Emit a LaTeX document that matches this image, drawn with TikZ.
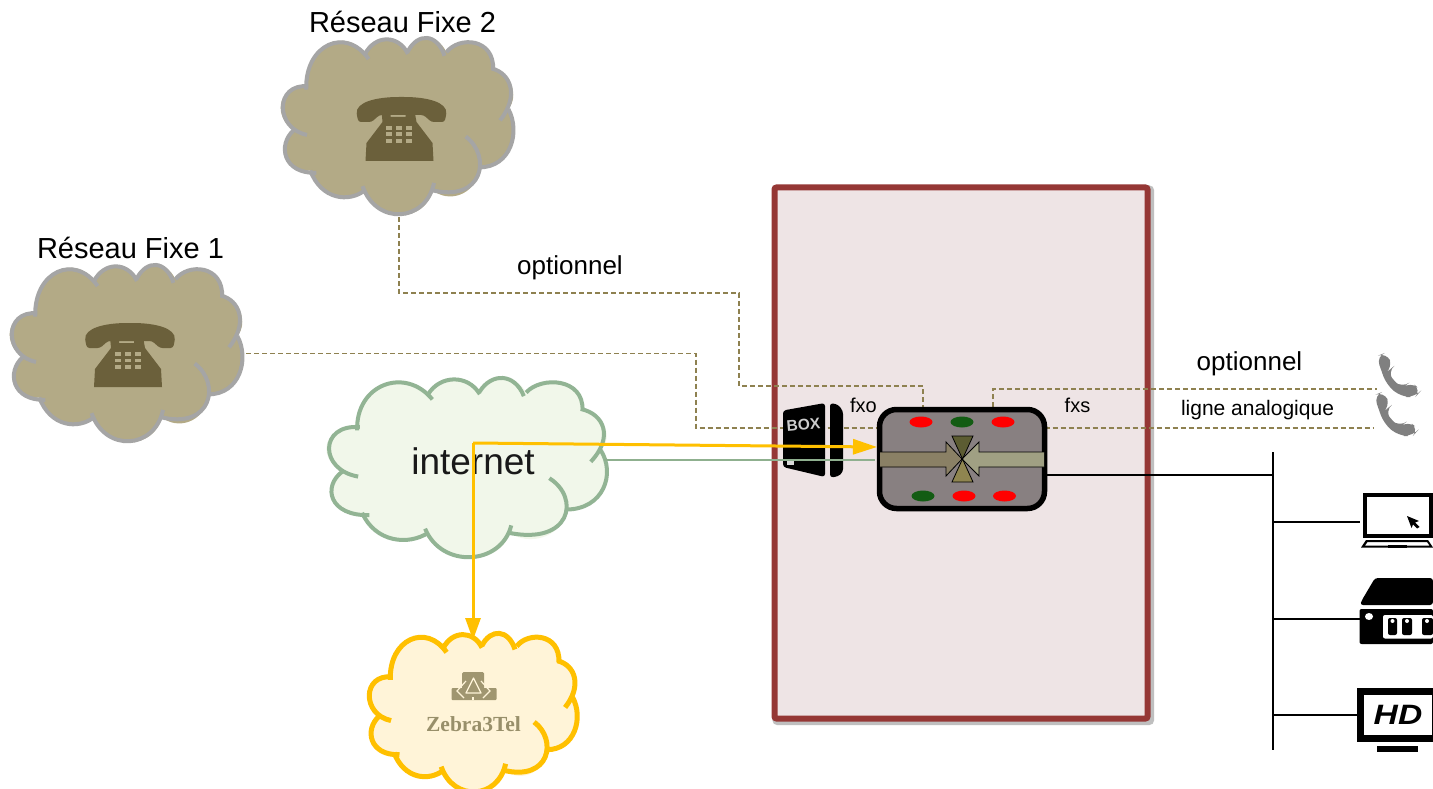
\documentclass[tikz,border=0pt]{standalone}
\usepackage{fontspec}
\setmainfont{Liberation Sans}
\newfontfamily\zebrafont{Liberation Serif}
\usetikzlibrary{arrows.meta,calc}
\definecolor{frameC}{HTML}{953735}
\definecolor{frameF}{HTML}{EEE4E5}
\definecolor{dashC}{HTML}{8E8150}
\definecolor{fixeF}{HTML}{B3AA86}
\definecolor{fixeS}{HTML}{A5A5A5}
\definecolor{netF}{HTML}{F1F7EA}
\definecolor{netS}{HTML}{92B494}
\definecolor{zebF}{HTML}{FFF4D8}
\definecolor{zebS}{HTML}{FFC000}
\definecolor{phoneC}{HTML}{6B603B}
\definecolor{logoC}{HTML}{A09670}
\definecolor{routerF}{HTML}{888081}
\definecolor{ledG}{HTML}{135C13}
\definecolor{arrowL}{HTML}{8A8065}
\definecolor{arrowR}{HTML}{A0A083}
\definecolor{triT}{HTML}{5C5C32}
\definecolor{triB}{HTML}{8F8550}
\definecolor{greenL}{HTML}{8FB08F}
\tikzset{
  lbl/.style={inner sep=0pt,text=black},
  ghost/.style={inner sep=0pt,outer sep=0pt},
  dashline/.style={draw=dashC,line width=1.5pt,dash pattern=on 5pt off 3pt},
  lanline/.style={draw=black,line width=1.7pt},
  orangeline/.style={draw=zebS,line width=3pt},
  led/.style={ellipse,minimum width=23pt,minimum height=11pt,inner sep=0pt},
  tri/.style={draw=black,line width=0.8pt},
}
\usetikzlibrary{shapes.geometric}
% cloud drawn in its own normalised coordinates (851 x 552)
\newcommand{\cloudshape}[7]{%
\begin{scope}[shift={(#1,#2)},xscale=#3/851,yscale=#4/552,shift={(-462.5,-294)}]
\fill[#5] (125,175) .. controls (120,40) and (270,-15) .. (340,70)
  .. controls (375,10) and (460,10) .. (495,62)
  .. controls (530,5) and (600,5) .. (635,65)
  .. controls (680,15) and (810,20) .. (805,115)
  .. controls (870,130) and (900,200) .. (860,240)
  .. controls (905,310) and (870,420) .. (760,420)
  .. controls (740,510) and (640,530) .. (585,490)
  .. controls (560,590) and (380,600) .. (340,490)
  .. controls (280,530) and (180,520) .. (140,430)
  .. controls (40,440) and (20,350) .. (80,305)
  .. controls (10,270) and (10,170) .. (125,175) -- cycle;
\begin{scope}[draw=#6,line width=#7pt,fill=none]
\draw (125,180) .. controls (120,40) and (270,-15) .. (352,86);
\draw (338,72) .. controls (375,10) and (460,10) .. (495,70);
\draw (495,62) .. controls (530,5) and (600,5) .. (628,76);
\draw (635,65) .. controls (680,15) and (810,20) .. (805,120);
\draw (800,115) .. controls (870,130) and (900,200) .. (830,275);
\draw (860,240) .. controls (905,310) and (870,420) .. (755,420);
\draw (705,325) .. controls (800,385) and (770,530) .. (580,490);
\draw (590,468) .. controls (560,590) and (380,600) .. (330,478);
\draw (340,490) .. controls (280,530) and (180,520) .. (140,430);
\draw (162,437) .. controls (40,440) and (20,350) .. (80,305);
\draw (128,320) .. controls (10,300) and (10,160) .. (133,170);
\end{scope}
\end{scope}}
% desk telephone, centred on its own origin
\newcommand{\deskphone}[2]{%
\begin{scope}[shift={(#1,#2)}]
\fill[phoneC,rounded corners=2.5pt] (-44.5,-12) .. controls (-46,-26) and (-25,-31) .. (0,-31)
  .. controls (25,-31) and (46,-26) .. (44.5,-12) -- (43,-6) -- (30,-6) -- (22,-13)
  -- (-22,-13) -- (-30,-6) -- (-43,-6) -- cycle;
\fill[phoneC] (-20,-17) -- (-11,-17) -- (-11,-11) -- (4,-11) -- (4,-17) -- (13,-17)
  -- (15,-6) -- (31,15) -- (32,33) -- (-36,33) -- (-35,15) -- (-19,-6) -- cycle;
\foreach \kx in {-15.5,-5.5,4.5}\foreach \ky in {-2,4.5,11}
  \fill[fixeF] (\kx,\ky) rectangle ++(6,3.6);
\end{scope}}
% tilted handset
\newcommand{\handset}[2]{%
\begin{scope}[shift={(#1,#2)},xscale=1/3,yscale=1/3]
\fill[gray,rounded corners=9pt] (-5,10) -- (25,-2) -- (45,42) -- (28,56) -- (48,85) -- (72,105)
  -- (98,86) -- (130,112) -- (112,132) -- (70,132) -- (25,95) -- cycle;
\end{scope}}
\begin{document}
\begin{tikzpicture}[x=1pt,y=-1pt]
\clip (0,0) rectangle (1433,789);
\fill[white] (0,0) rectangle (1433,789);
% frame
\draw[black!25,line width=6pt,rounded corners=2pt] (775.5,188.5) rectangle (1151,722);
\node[ghost,draw=frameC,fill=frameF,line width=6pt,rounded corners=2pt,minimum width=373pt,minimum height=531pt] (frame) at (961,453) {};
% clouds
\node[ghost,minimum width=236pt,minimum height=181pt] (fixetwo) at (399,126.5) {};
\node[ghost,minimum width=236pt,minimum height=181pt] (fixeone) at (128,353.5) {};
\node[ghost,minimum width=284pt,minimum height=184pt] (inet) at (469,468) {};
\node[ghost,minimum width=214pt,minimum height=164pt] (zebra) at (474,713) {};
\cloudshape{399}{126.5}{234}{179}{fixeF}{fixeS}{4}
\cloudshape{128}{353.5}{234}{179}{fixeF}{fixeS}{4}
\cloudshape{469}{468}{282}{182}{netF}{netS}{4}
\cloudshape{474}{713}{211}{161}{zebF}{zebS}{5}
\deskphone{401.5}{128}
\deskphone{130}{354}
% texts
\node[lbl,font=\fontsize{29}{32}\selectfont] (t2) at (402.5,22) {Réseau Fixe 2};
\node[lbl,font=\fontsize{29}{32}\selectfont] (t1) at (130.5,248) {Réseau Fixe 1};
\node[lbl,font=\fontsize{26}{30}\selectfont] (o1) at (570,268) {optionnel};
\node[lbl,font=\fontsize{26}{30}\selectfont] (o2) at (1249.5,364) {optionnel};
\node[lbl,font=\fontsize{21}{24}\selectfont] (la) at (1257.5,410) {ligne analogique};
\node[lbl,font=\fontsize{20}{24}\selectfont] (fxo) at (863.5,405) {fxo};
\node[lbl,font=\fontsize{20}{24}\selectfont] (fxs) at (1077.5,405) {fxs};
\node[lbl,font=\fontsize{37}{40}\selectfont,text=black!90] (inettext) at (473,461) {internet};
% Zebra logo
\fill[logoC,rounded corners=1.5pt] (462,672) rectangle (484,690);
\fill[logoC,rounded corners=1pt] (451.5,688) rectangle (496.5,700);
\draw[zebF,line width=1.2pt,line join=round] (473.5,678) -- (481,693) -- (466,693) -- cycle;
\draw[zebF,line width=1.2pt] (466,681) -- (457,691) -- (464,698);
\draw[zebF,line width=1.2pt] (481,681) -- (490,691) -- (483,698);
\draw[zebF,line width=1.2pt] (473,700) -- (473,697);
\node[lbl,font=\zebrafont\bfseries\fontsize{21.5}{24}\selectfont,text=logoC!95!black] (zt) at (473.5,724) {Zebra3Tel};
% connector coordinates
\coordinate (jtwoa) at (399,293);
\coordinate (jtwob) at (739,386);
\coordinate (jone) at (696,428);
\coordinate (rtop) at (923,407);
\coordinate (rtopr) at (993,407);
\coordinate (phoneA) at (1377,389);
\coordinate (phoneB) at (1373,428);
\coordinate (bustop) at (1273,452);
\coordinate (busbot) at (1273,750);
\coordinate (laptopP) at (1360,522);
\coordinate (switchP) at (1360,619);
\coordinate (tvP) at (1357,715);
\coordinate (zebraTip) at (473,640);
\coordinate (corner) at (473,443);
\coordinate (rEntry) at (877,447);
\coordinate (greenS) at (604,460);
\coordinate (greenE) at (875,460);
% router node first for anchors
\node[ghost,minimum width=165pt,minimum height=99pt] (router) at (962,459) {};
% dashed lines
\draw[dashline] (fixetwo.south) -- (jtwoa) -| (jtwob) -| (rtop);
\draw[dashline] (fixeone.east) -| (jone) -- (jone -| router.west);
\draw[dashline] (rtopr) |- (phoneA);
\draw[dashline] (phoneB -| router.east) -- (phoneB);
% box
\fill[black,rounded corners=3pt] (783,410.5) -- (825,403) -- (825,477) -- (783,467) -- cycle;
\fill[black,rounded corners=3pt] (830,403) -- (838,404.5) -- (843,411) -- (843,472) -- (838,476.5) -- (830,477.5) -- cycle;
\fill[white!85!black] (787,459) rectangle (793.5,465);
\node[lbl,font=\bfseries\fontsize{15.5}{17}\selectfont,text=white!80!black,rotate=5] (boxt) at (803.5,424.5) {BOX};
% router
\node[ghost,draw=black,fill=routerF,line width=5.5pt,rounded corners=17pt,minimum width=165pt,minimum height=99pt] (routerbody) at (962,459) {};
\foreach \lx/\ly/\lc/\ln in {921/422/red/a,962/422/ledG/b,1003/422/red/c,923/496/ledG/d,964/496/red/e,1004.5/496/red/f}
  \node[led,fill=\lc] (led\ln) at (\lx,\ly) {};
\fill[arrowL] (880,452) -- (946,452) -- (946,442) -- (962,459) -- (946,476) -- (946,467) -- (880,467) -- cycle;
\draw[tri] (880,452) -- (946,452) -- (946,442) -- (962,459) -- (946,476) -- (946,467) -- (880,467);
\fill[arrowR] (1044,452) -- (979,452) -- (979,442) -- (962,459) -- (979,476) -- (979,467) -- (1044,467) -- cycle;
\draw[tri] (1044,452) -- (979,452) -- (979,442) -- (962,459) -- (979,476) -- (979,467) -- (1044,467);
\draw[tri,fill=triT] (952,436) -- (973,436) -- (962.5,459) -- cycle;
\draw[tri,fill=triB] (952,482) -- (973,482) -- (962.5,459) -- cycle;
% green link
\draw[greenL,line width=1.6pt] (greenS) -- (greenE);
% orange links
\draw[orangeline,-{Triangle[length=24pt,width=15pt]}] (corner) -- (rEntry);
\draw[orangeline,-{Triangle[length=22pt,width=15pt]}] (corner) -- (zebraTip);
% LAN
\draw[lanline] (router.east |- 0,475) -- (bustop |- 0,475);
\draw[lanline] (bustop) -- (busbot);
\draw[lanline] (bustop |- laptopP) -- (laptopP);
\draw[lanline] (bustop |- switchP) -- (switchP);
\draw[lanline] (bustop |- tvP) -- (tvP);
% handsets
\handset{1378}{353}
\handset{1375.5}{392}
% laptop
\draw[black,line width=4pt,fill=white] (1365,495) rectangle (1431,536);
\fill[black] (1407,516) -- (1419,521) -- (1415,522.5) -- (1419.5,527) -- (1417,528.5) -- (1413,524.5) -- (1411.5,528) -- cycle;
\fill[black,even odd rule] (1366,540) -- (1428,540) -- (1433,547.5) -- (1361,547.5) -- cycle
  (1367.5,542) -- (1427,542) -- (1429.5,545.5) -- (1365,545.5) -- cycle;
\fill[black] (1388,544.5) rectangle (1407,547.5);
% switch
\fill[black,rounded corners=3pt] (1375,578) -- (1433,578) -- (1433,605) -- (1360,605) -- (1362,600) -- cycle;
\fill[black,rounded corners=2pt] (1359.5,609) -- (1433,609) -- (1433,644) -- (1359.5,644) -- cycle;
\fill[white] (1369,616.5) ellipse (4pt and 3.5pt);
\fill[white,rounded corners=2pt] (1383,615) rectangle (1433,638.5);
\fill[black,rounded corners=2pt] (1388,618) rectangle (1397,635);
\fill[black,rounded corners=2pt] (1402,618) rectangle (1412,635);
\fill[black,rounded corners=2pt] (1422,618) rectangle (1433,635);
\fill[white] (1392.5,621) circle (2pt) (1407,621) circle (2pt) (1427,621) circle (2pt);
% TV
\fill[black] (1357,688) rectangle (1433,742);
\fill[white] (1363.5,695) rectangle (1431.5,735);
\fill[black] (1377,746) rectangle (1418,752);
\node[lbl,font=\bfseries\itshape\fontsize{28}{30}\selectfont,xscale=1.2] (hd) at (1398,715) {HD};
\end{tikzpicture}
\end{document}
